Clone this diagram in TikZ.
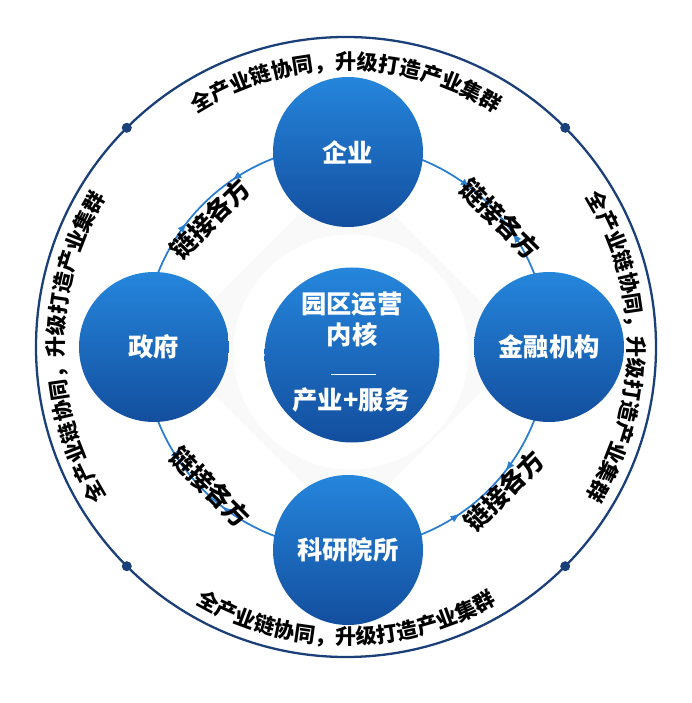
\documentclass[tikz,border=0pt]{standalone}
\usepackage{fontspec}
\newfontfamily\cjk{Noto Sans CJK SC}
\usetikzlibrary{decorations.text,decorations.markings,arrows.meta}
\definecolor{ringblue}{HTML}{2A7ED2}
\definecolor{balltop}{HTML}{2586DC}
\definecolor{ballbot}{HTML}{134E9E}
\definecolor{darkring}{HTML}{1B3F78}
\tikzset{
  ball/.style={circle,minimum size=3cm,top color=balltop,bottom color=ballbot,
    text=white,font=\cjk\bfseries\Large},
  linklabel/.style={font=\cjk\bfseries\Large},
  pairarrows/.style={postaction={decorate,decoration={markings,
    mark=at position 0.35 with {\arrow{Latex[length=2mm]}},
    mark=at position 0.6 with {\arrowreversed{Latex[length=2mm]}}}}},
  ringtext/.style={decorate,decoration={text along path,text align=center,
    text={|\cjk\bfseries\large|全产业链协同，升级打造产业集群}}}
}
\begin{document}
\begin{tikzpicture}
  \useasboundingbox (-6.92,-7.12) rectangle (6.92,6.94);
  % outer ring and dots
  \draw[darkring,line width=1.3pt] (0,0) circle (6.2);
  \foreach \a in {45,135,225,315}
    \fill[darkring] (\a:6.2) circle (0.1);
  % soft background
  \fill[gray!5] (0,3.6) .. controls (-1.2,2.4) and (-2.4,1.2) .. (-3.6,0)
     .. controls (-2.4,-1.2) and (-1.2,-2.4) .. (0,-3.6)
     .. controls (1.2,-2.4) and (2.4,-1.2) .. (3.6,0)
     .. controls (2.4,1.2) and (1.2,2.4) .. (0,3.6) -- cycle;
  \fill[white] (0.1,-0.1) circle (2.35);
  % middle ring between the nodes
  \draw[ringblue,line width=1pt,pairarrows] (100:4.04) arc (100:170:4.04);
  \draw[ringblue,line width=1pt,pairarrows] (10:4.04) arc (10:80:4.04);
  \draw[ringblue,line width=1pt,pairarrows] (190:4.04) arc (190:260:4.04);
  \draw[ringblue,line width=1pt,pairarrows] (280:4.04) arc (280:350:4.04);
  % text along the outer ring
  \path[ringtext] (150:5.55) arc (150:30:5.55);
  \path[ringtext] (60:5.65) arc (60:-60:5.65);
  \path[ringtext] (214:5.95) arc (214:326:5.95);
  \path[ringtext] (240:5.65) arc (240:120:5.65);
  % nodes
  \node[ball] (qiye) at (0.04,3.9) {企业};
  \node[ball] (zhengfu) at (-3.84,0) {政府};
  \node[ball] (jinrong) at (4.06,0) {金融机构};
  \node[ball] (keyan) at (0.04,-4.06) {科研院所};
  \node[ball,minimum size=3.5cm] (core) at (0.12,-0.16) {};
  \node[text=white,font=\cjk\bfseries\Large,align=center] (coretop) at (0.12,0.55) {园区运营\\内核};
  \draw[white,thick] (-0.3,-0.55) -- (0.6,-0.55);
  \node[text=white,font=\cjk\bfseries\Large] (corebot) at (0.1,-1.05) {产业+服务};
  % link labels
  \node[linklabel,rotate=45] (ltl) at (-2.72,2.56) {链接各方};
  \node[linklabel,rotate=-45] (ltr) at (3.08,2.56) {链接各方};
  \node[linklabel,rotate=-45] (lbl) at (-2.72,-2.8) {链接各方};
  \node[linklabel,rotate=45] (lbr) at (3.16,-2.88) {链接各方};
\end{tikzpicture}
\end{document}
